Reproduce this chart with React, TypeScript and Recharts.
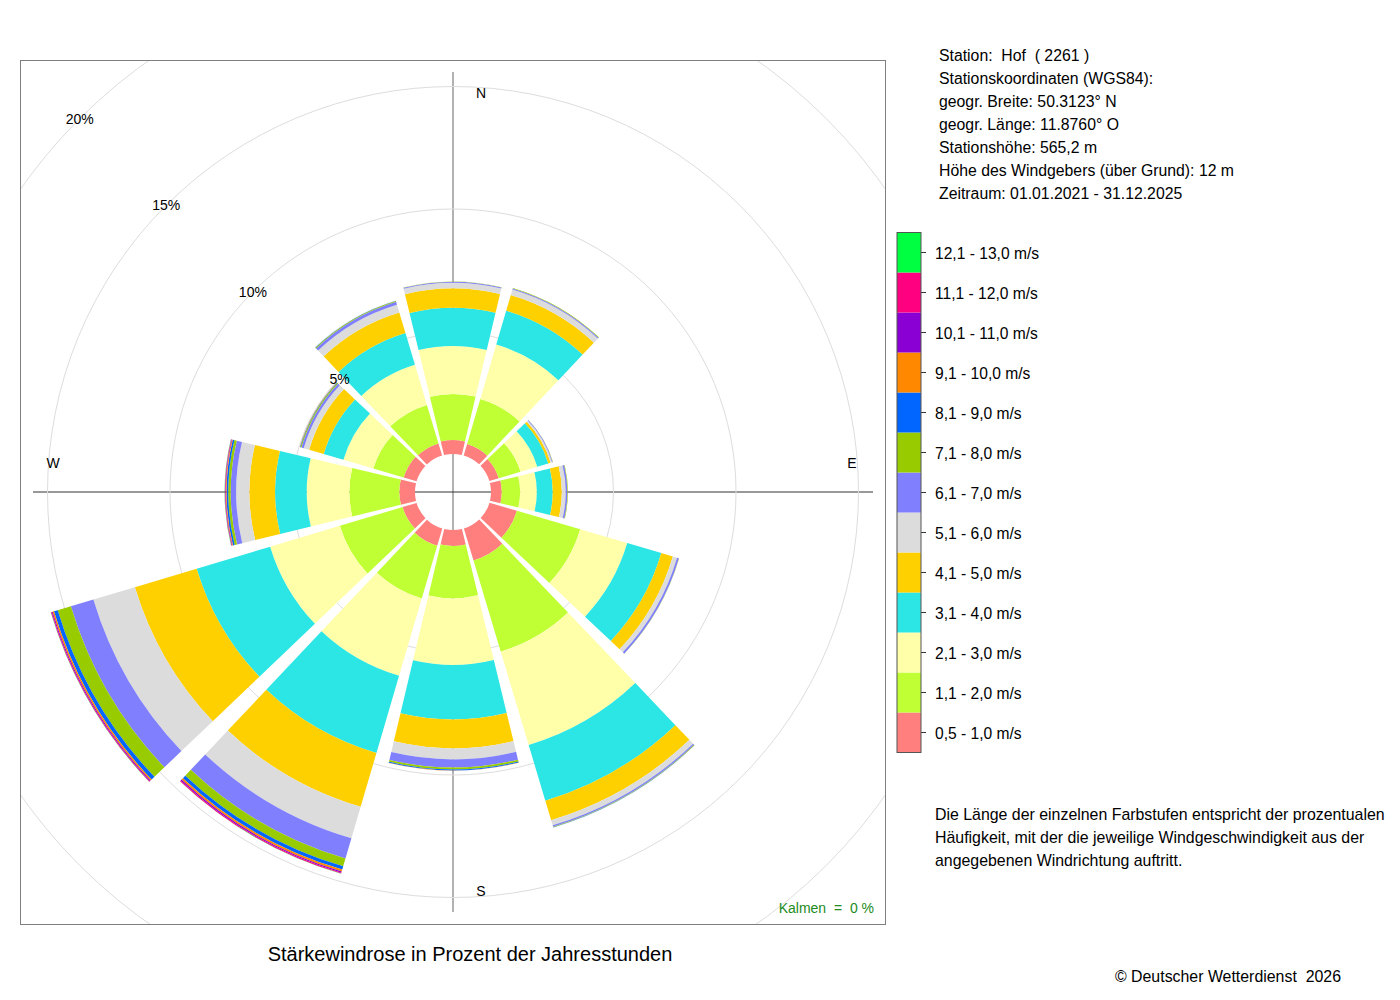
import React from 'react';
import { RadialBarChart, RadialBar, PolarGrid, PolarAngleAxis, PolarRadiusAxis } from 'recharts';

const FONT = '"Liberation Sans", Arial, Helvetica, sans-serif';

// Windrichtungen (30°-Sektoren, im Uhrzeigersinn ab Nord)
const directions = ['N', 'NNO', 'ONO', 'O', 'OSO', 'SSO', 'S', 'SSW', 'WSW', 'W', 'WNW', 'NNW'];

// Geschwindigkeitsklassen (innen nach außen)
const speedClasses = [
  '0,5 - 1,0 m/s',
  '1,1 - 2,0 m/s',
  '2,1 - 3,0 m/s',
  '3,1 - 4,0 m/s',
  '4,1 - 5,0 m/s',
  '5,1 - 6,0 m/s',
  '6,1 - 7,0 m/s',
  '7,1 - 8,0 m/s',
  '8,1 - 9,0 m/s',
  '9,1 - 10,0 m/s',
  '10,1 - 11,0 m/s',
  '11,1 - 12,0 m/s',
  '12,1 - 13,0 m/s',
];

const classColors = [
  '#FF7F7F',
  '#BFFF33',
  '#FFFFAA',
  '#2CE5E5',
  '#FFD000',
  '#DCDCDC',
  '#8080FF',
  '#99CC00',
  '#0066FF',
  '#FF8800',
  '#8A00D4',
  '#FF0080',
  '#00FF40',
];

// Häufigkeiten in % je Richtung (N, NNO, ONO, O, OSO, SSO, S, SSW, WSW, W, WNW, NNW)
const v05_10 = [0.57, 0.49, 0.4, 0.44, 1.17, 1.37, 0.65, 0.73, 0.6, 0.64, 0.55, 0.52];
const v11_20 = [1.88, 1.92, 0.93, 0.75, 2.69, 3.88, 2.14, 2.25, 2.67, 2.04, 1.29, 1.64];
const v21_30 = [1.96, 2.31, 0.71, 0.68, 2.0, 3.98, 2.72, 3.29, 2.97, 1.74, 1.27, 1.71];
const v31_40 = [1.56, 1.44, 0.47, 0.65, 1.45, 2.37, 2.22, 3.28, 3.13, 1.29, 0.84, 1.35];
const v41_50 = [0.79, 0.67, 0.1, 0.37, 0.49, 0.83, 1.18, 2.29, 2.63, 1.05, 0.62, 0.88];
const v51_60 = [0.23, 0.23, 0.06, 0.16, 0.18, 0.22, 0.45, 1.34, 1.77, 0.54, 0.23, 0.33];
const v61_70 = [0.04, 0.05, 0.03, 0.07, 0.08, 0.06, 0.33, 0.86, 0.96, 0.22, 0.1, 0.12];
const v71_80 = [0.01, 0.02, 0.01, 0.02, 0.01, 0.02, 0.08, 0.33, 0.56, 0.1, 0.04, 0.04];
const v81_90 = [0, 0, 0, 0, 0, 0.01, 0.04, 0.14, 0.16, 0.07, 0.02, 0.01];
const v91_100 = [0, 0, 0, 0, 0, 0, 0.01, 0.08, 0.06, 0.03, 0.01, 0];
const v101_110 = [0, 0, 0, 0, 0, 0, 0, 0.05, 0.04, 0.02, 0, 0];
const v111_120 = [0, 0, 0, 0, 0, 0, 0, 0.04, 0.03, 0.02, 0, 0];
const v121_130 = [0, 0, 0, 0, 0, 0, 0, 0.01, 0.01, 0.01, 0, 0];

const classValues = [
  v05_10, v11_20, v21_30, v31_40, v41_50, v51_60, v61_70,
  v71_80, v81_90, v91_100, v101_110, v111_120, v121_130,
];

const ringTicks = [5, 10, 15, 20];

const stationLines = [
  'Station:  Hof  ( 2261 )',
  'Stationskoordinaten (WGS84):',
  'geogr. Breite: 50.3123° N',
  'geogr. Länge: 11.8760° O',
  'Stationshöhe: 565,2 m',
  'Höhe des Windgebers (über Grund): 12 m',
  'Zeitraum: 01.01.2021 - 31.12.2025',
];

const noteLines = [
  'Die Länge der einzelnen Farbstufen entspricht der prozentualen',
  'Häufigkeit, mit der die jeweilige Windgeschwindigkeit aus der',
  'angegebenen Windrichtung auftritt.',
];

// Tabelle für Recharts
const data = directions.map((dir, i) => {
  const row: Record<string, string | number> = { dir };
  classValues.forEach((vals, k) => {
    row['c' + k] = vals[i];
  });
  return row;
});

// Plotbox
const BOX_X = 20;
const BOX_Y = 60;
const BOX_W = 866;
const BOX_H = 865;
const CX = 433;
const CY = 432;
const PCX = BOX_X + CX;
const PCY = BOX_Y + CY;

const RingTick = (props: any) => {
  const { x, y, payload } = props;
  return (
    <text x={x} y={y} textAnchor="middle" dominantBaseline="central" fontSize={14} fill="#000" fontFamily={FONT}>
      {payload.value}%
    </text>
  );
};

const App = () => {
  const legendTop = 232.5;
  const cell = 40;

  return (
    <div style={{ position: 'absolute', left: 0, top: 0, width: 1400, height: 1000, background: '#fff', fontFamily: FONT }}>
      {/* Achsenkreuz unter den Sektoren */}
      <svg width={1400} height={1000} style={{ position: 'absolute', left: 0, top: 0 }}>
        <line x1={PCX} y1={PCY - 420} x2={PCX} y2={PCY + 420} stroke="#999" strokeWidth={1.5} />
        <line x1={PCX - 420} y1={PCY} x2={PCX + 420} y2={PCY} stroke="#333" strokeWidth={1} />
      </svg>

      <div style={{ position: 'absolute', left: BOX_X, top: BOX_Y }}>
        {/* Sektoren laufen von der Bandgrenze aus gegen den Uhrzeigersinn, daher Start bei 75° */}
        <RadialBarChart
          width={BOX_W}
          height={BOX_H}
          data={data}
          layout="centric"
          cx={CX}
          cy={CY}
          innerRadius={38}
          outerRadius={528}
          startAngle={75}
          endAngle={-285}
          barCategoryGap="5.5%"
          margin={{ top: 0, right: 0, bottom: 0, left: 0 }}
        >
          <PolarGrid gridType="circle" radialLines={false} stroke="#dddddd" />
          <PolarAngleAxis type="category" dataKey="dir" tick={false} axisLine={false} tickLine={false} />
          <PolarRadiusAxis
            type="number"
            domain={[0, 20]}
            ticks={ringTicks}
            angle={135}
            axisLine={false}
            tickLine={false}
            tick={RingTick}
          />
          {classValues.map((_, k) => (
            <RadialBar
              key={k}
              dataKey={'c' + k}
              stackId="wind"
              fill={classColors[k]}
              isAnimationActive={false}
            />
          ))}
        </RadialBarChart>
      </div>

      {/* Texte, Rahmen und Legende */}
      <svg width={1400} height={1000} style={{ position: 'absolute', left: 0, top: 0, pointerEvents: 'none' }} fontFamily={FONT}>
        <rect x={BOX_X + 0.5} y={BOX_Y + 0.5} width={BOX_W - 1} height={BOX_H - 1} fill="none" stroke="#7f7f7f" />

        <text x={PCX + 28} y={PCY - 399} fontSize={14} textAnchor="middle" dominantBaseline="central">N</text>
        <text x={PCX + 399} y={PCY - 29} fontSize={14} textAnchor="middle" dominantBaseline="central">E</text>
        <text x={PCX + 28} y={PCY + 399} fontSize={14} textAnchor="middle" dominantBaseline="central">S</text>
        <text x={PCX - 400} y={PCY - 29} fontSize={14} textAnchor="middle" dominantBaseline="central">W</text>

        <text x={874} y={908} fontSize={14} textAnchor="end" dominantBaseline="central" fill="#228B22" style={{ whiteSpace: 'pre' }}>
          {'Kalmen  =  0 %'}
        </text>

        <text x={470} y={954} fontSize={20} textAnchor="middle" dominantBaseline="central">
          Stärkewindrose in Prozent der Jahresstunden
        </text>

        {stationLines.map((t, i) => (
          <text key={t} x={939} y={55 + i * 23.15} fontSize={15.8} dominantBaseline="central" style={{ whiteSpace: 'pre' }}>
            {t}
          </text>
        ))}

        {speedClasses.map((label, k) => {
          const row = speedClasses.length - 1 - k;
          const y = legendTop + row * cell;
          return (
            <g key={label}>
              <rect x={897} y={y} width={24} height={cell} fill={classColors[k]} />
              <line x1={921} y1={y + cell / 2} x2={926} y2={y + cell / 2} stroke="#333" />
              <text x={935} y={y + cell / 2 + 0.5} fontSize={15.6} dominantBaseline="central">
                {label}
              </text>
            </g>
          );
        })}
        <rect x={897} y={legendTop} width={24} height={cell * speedClasses.length} fill="none" stroke="#555" />

        {noteLines.map((t, i) => (
          <text key={t} x={935} y={814 + i * 23} fontSize={15.9} dominantBaseline="central">
            {t}
          </text>
        ))}

        <text x={1341} y={976} fontSize={15.9} textAnchor="end" dominantBaseline="central" style={{ whiteSpace: 'pre' }}>
          © Deutscher Wetterdienst  2026
        </text>
      </svg>
    </div>
  );
};

export default App;
